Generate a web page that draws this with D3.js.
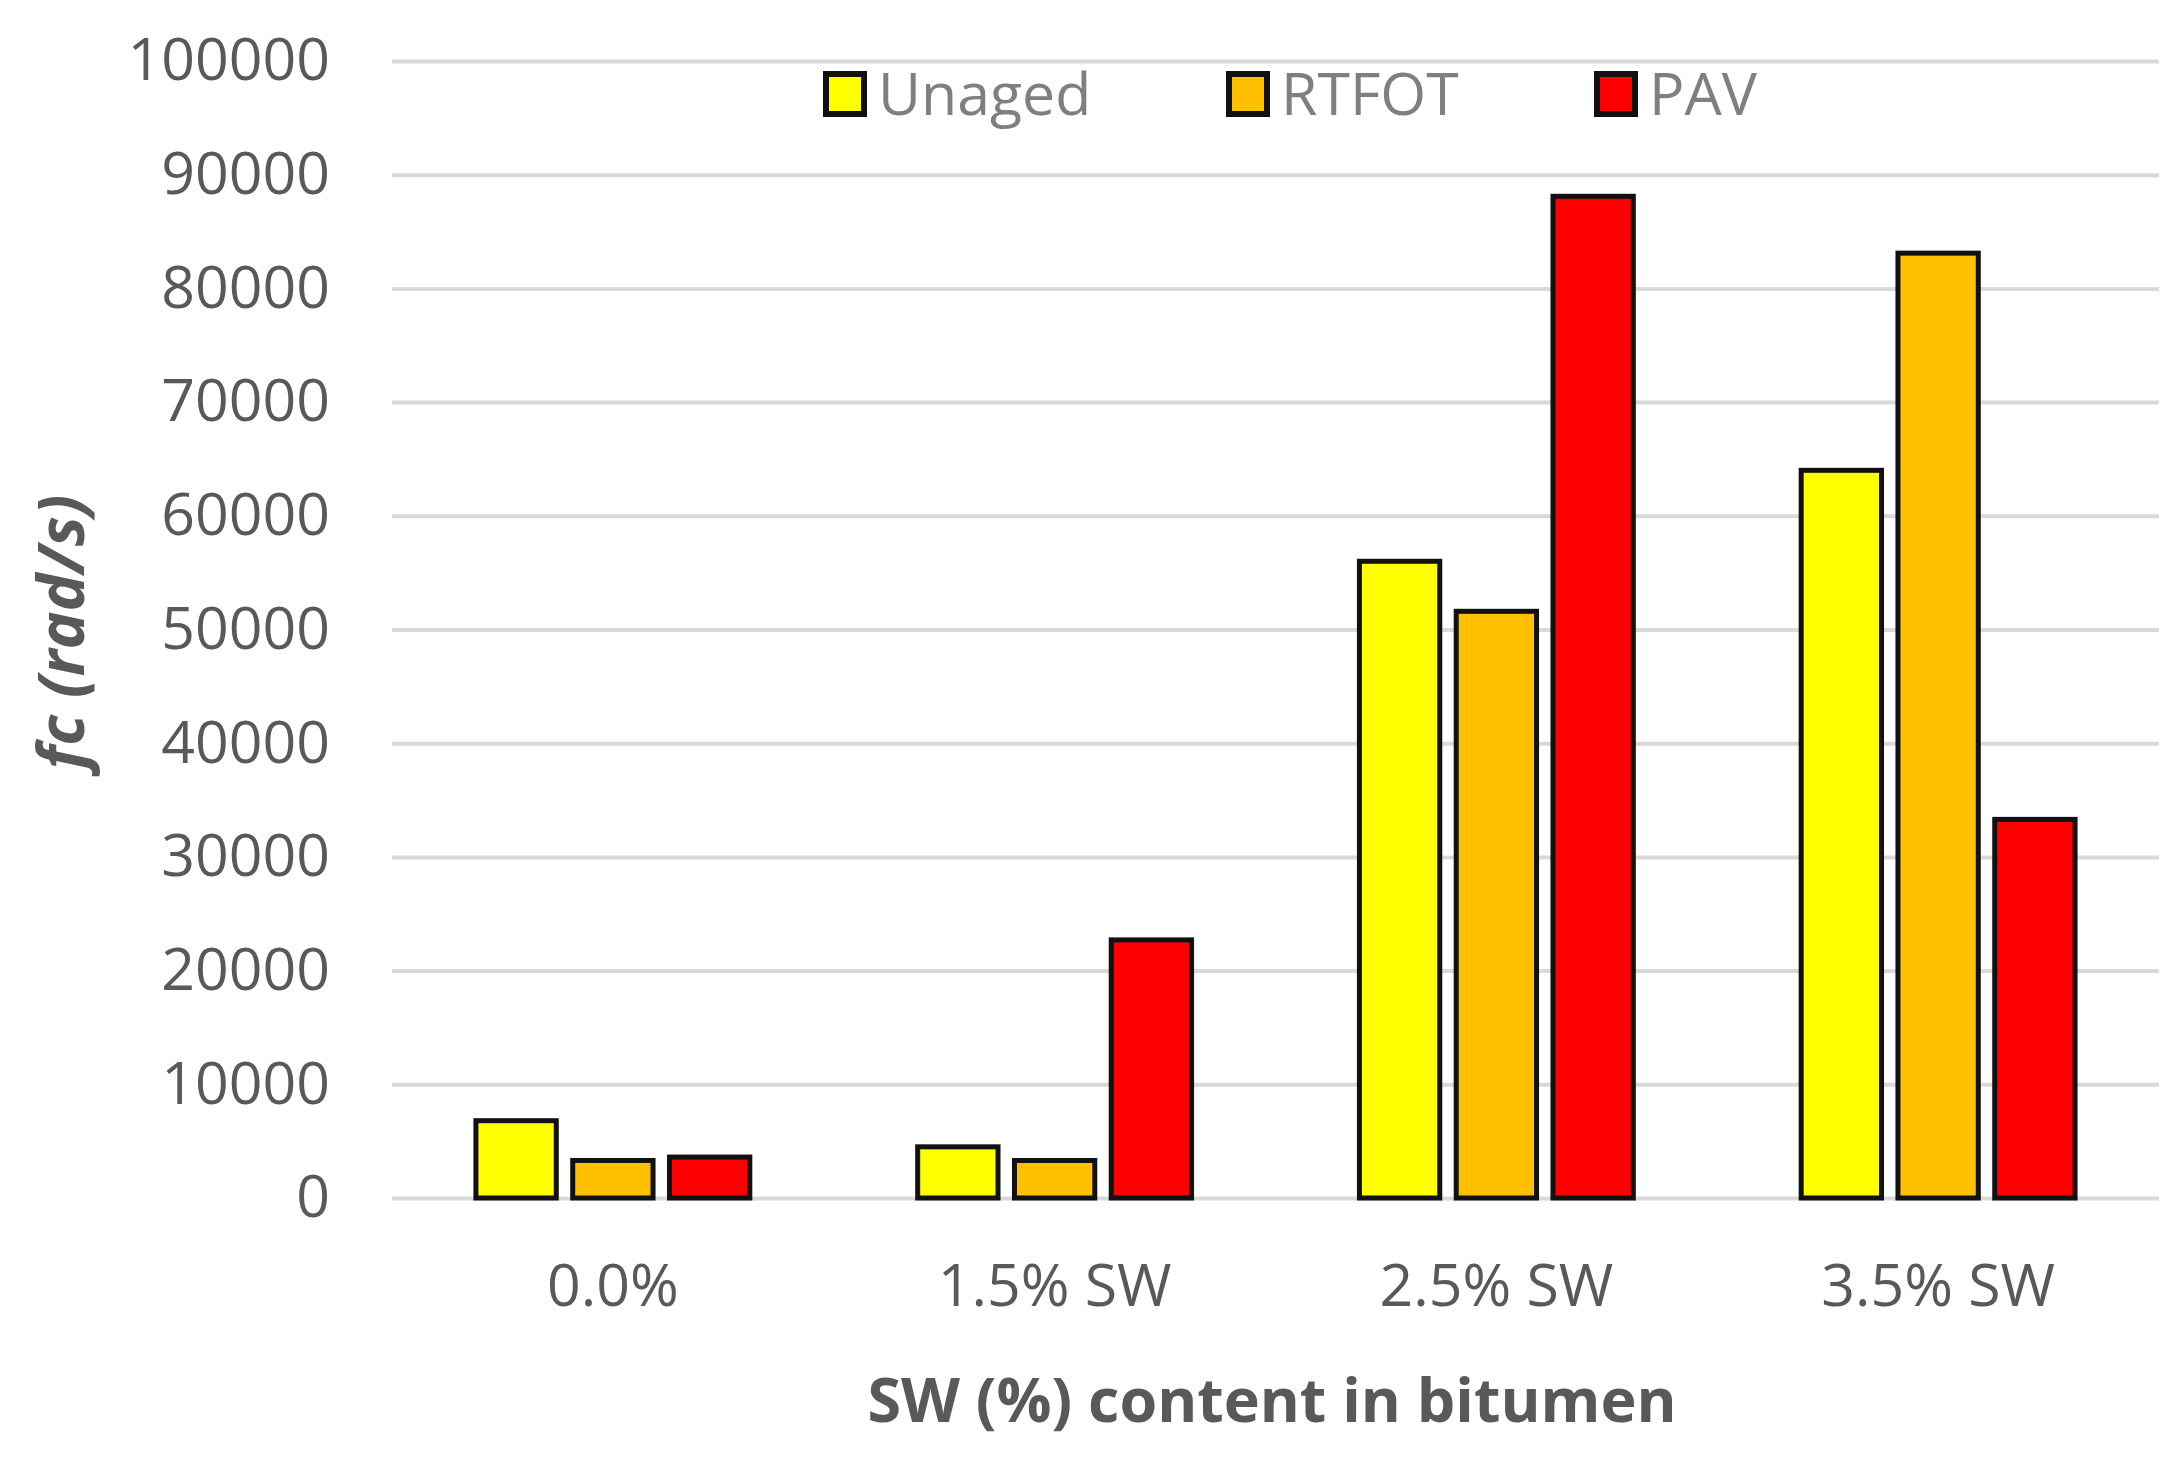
<!DOCTYPE html>
<html>
<head>
<meta charset="utf-8">
<script src="https://d3js.org/d3.v7.min.js"></script>
<style>
  body { margin: 0; background: #fff; }
  text { font-family: "Open Sans", "Noto Sans", sans-serif; }
</style>
</head>
<body>
<svg id="svg"></svg>
<script>
let svg = d3.select("#svg");

const width = 2177;
const height = 1457;

// data
const categories = ["0.0%", "1.5% SW", "2.5% SW", "3.5% SW"];
const seriesNames = ["Unaged", "RTFOT", "PAV"];
const unaged = [6800, 4500, 56000, 64000];
const rtfot = [3300, 3300, 51600, 83100];
const pav = [3600, 22700, 88100, 33300];
const yTicks = [0, 10000, 20000, 30000, 40000, 50000, 60000, 70000, 80000, 90000, 100000];

const colors = ["#FFFF00", "#FFC000", "#FF0000"];
const seriesValues = [unaged, rtfot, pav];

const margin = {left: 392, right: width - 2159, top: 61, bottom: height - 1198};

svg.attr("width", width).attr("height", height);

let x0 = d3.scaleBand()
    .domain(categories)
    .range([margin.left, width - margin.right])
    .paddingInner(0.38)
    .paddingOuter(0.19);

let x1 = d3.scaleBand()
    .domain(seriesNames)
    .range([0, x0.bandwidth()])
    .paddingInner(0.17);

let y = d3.scaleLinear()
    .domain([0, 100000])
    .range([height - margin.bottom, margin.top]);

// gridlines + tick labels
let yAxis = svg.append("g")
    .attr("transform", "translate(" + margin.left + ",0)")
    .call(d3.axisLeft(y)
        .tickValues(yTicks)
        .tickSize(-(width - margin.left - margin.right))
        .tickPadding(62)
        .tickFormat(d3.format("d")));
yAxis.select(".domain").remove();
yAxis.selectAll(".tick line")
    .attr("stroke", "#d9d9d9")
    .attr("stroke-width", 4);
yAxis.selectAll(".tick text")
    .attr("fill", "#595959")
    .style("font-size", "59px")
    .style("font-family", "'Open Sans', sans-serif");

// category labels
let xAxis = svg.append("g")
    .attr("transform", "translate(0," + y(0) + ")")
    .call(d3.axisBottom(x0).tickSize(0).tickPadding(66));
xAxis.select(".domain").remove();
xAxis.selectAll(".tick text")
    .attr("fill", "#595959")
    .style("font-size", "59px")
    .style("font-family", "'Open Sans', sans-serif");

// bars
let rows = categories.map((c, i) => ({
    cat: c,
    vals: seriesNames.map((s, j) => ({name: s, value: seriesValues[j][i], color: colors[j]}))
}));

svg.append("g")
    .selectAll("g")
    .data(rows)
    .enter()
    .append("g")
        .attr("transform", d => "translate(" + x0(d.cat) + ",0)")
    .selectAll("rect")
    .data(d => d.vals)
    .enter()
    .append("rect")
        .attr("x", d => x1(d.name))
        .attr("y", d => y(d.value))
        .attr("width", x1.bandwidth())
        .attr("height", d => y(0) - y(d.value))
        .attr("fill", d => d.color)
        .attr("stroke", "#111")
        .attr("stroke-width", 5);

// legend
const legendX = [823, 1226, 1594];
let legend = svg.append("g");
seriesNames.forEach((s, j) => {
    legend.append("rect")
        .attr("x", legendX[j] + 3)
        .attr("y", 74)
        .attr("width", 38)
        .attr("height", 40)
        .attr("fill", colors[j])
        .attr("stroke", "#111")
        .attr("stroke-width", 6);
    legend.append("text")
        .attr("x", legendX[j] + 55)
        .attr("y", 94)
        .attr("dy", "0.35em")
        .attr("fill", "#7f7f7f")
        .style("font-size", "59px")
        .text(s);
});

// axis titles
svg.append("text")
    .attr("x", 1272)
    .attr("y", 1422)
    .attr("text-anchor", "middle")
    .attr("fill", "#595959")
    .style("font-size", "61px")
    .style("font-weight", "bold")
    .text("SW (%) content in bitumen");

svg.append("text")
    .attr("transform", "translate(84,632) rotate(-90)")
    .attr("text-anchor", "middle")
    .attr("fill", "#595959")
    .style("font-size", "64px")
    .style("font-weight", "bold")
    .style("font-style", "italic")
    .text("fc (rad/s)");
</script>
</body>
</html>
